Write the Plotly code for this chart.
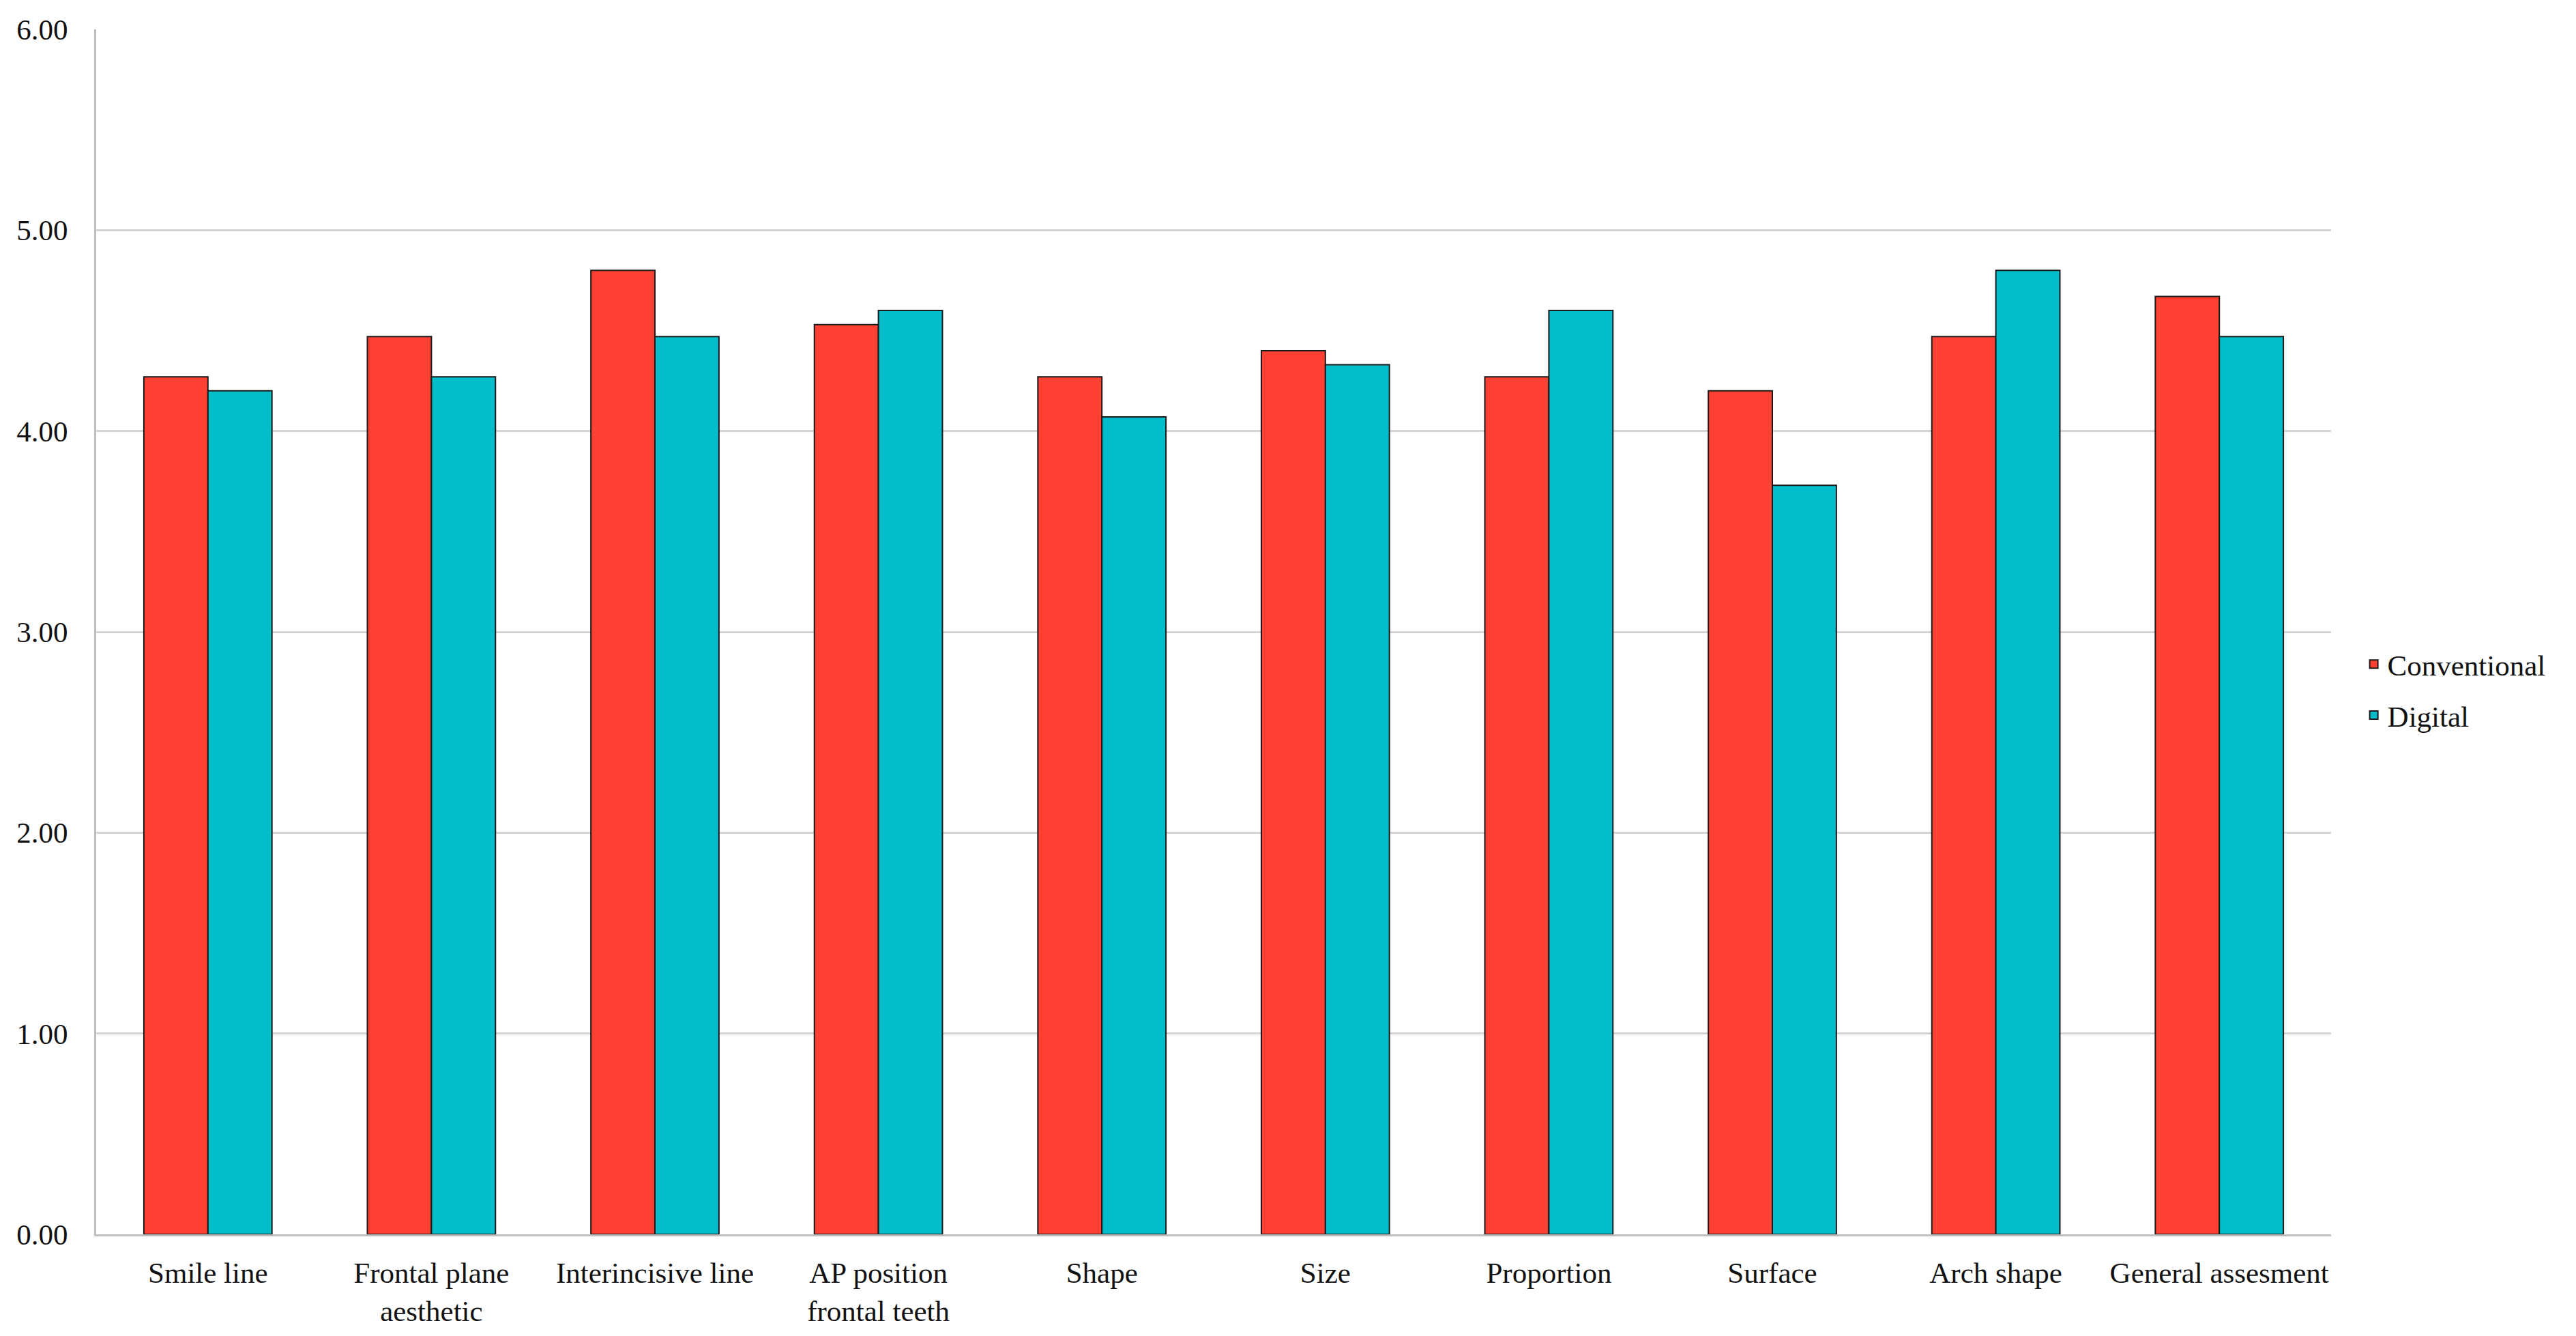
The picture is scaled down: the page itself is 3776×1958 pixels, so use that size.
import plotly.graph_objects as go

categories = ["Smile line", "Frontal plane<br>aesthetic", "Interincisive line", "AP position<br>frontal teeth",
              "Shape", "Size", "Proportion", "Surface", "Arch shape", "General assesment"]
conventional = [4.27, 4.47, 4.80, 4.53, 4.27, 4.40, 4.27, 4.20, 4.47, 4.67]
digital = [4.20, 4.27, 4.47, 4.60, 4.07, 4.33, 4.60, 3.73, 4.80, 4.47]

FONT = "Liberation Serif"
FS = 43
fig = go.Figure()
fig.add_trace(go.Bar(x=categories, y=conventional, name="Conventional", legendgroup="a",
                     marker=dict(color="#FF4133", line=dict(color="#1a1a1a", width=2))))
fig.add_trace(go.Bar(x=categories, y=digital, name="Digital", legendgroup="b",
                     marker=dict(color="#00BDC9", line=dict(color="#1a1a1a", width=2))))

fig.update_layout(
    width=3776, height=1958,
    margin=dict(l=133, r=367, t=23, b=157),
    paper_bgcolor="white", plot_bgcolor="white",
    barmode="group", bargap=0.427, bargroupgap=0,
    font=dict(family=FONT, size=FS, color="#111111"),
    legend=dict(x=1.013, y=0.452, xanchor="left", yanchor="middle",
                traceorder="grouped", tracegroupgap=16,
                font=dict(family=FONT, size=FS), itemwidth=30),
    showlegend=True,
)
fig.update_yaxes(range=[0, 6], dtick=1, tickformat=".2f", showgrid=True,
                 gridcolor="#D4D4D4", gridwidth=3, showline=True, linecolor="#BEBEBE",
                 linewidth=3, ticks="", ticklabelstandoff=30, zeroline=False,
                 tickfont=dict(family=FONT, size=FS))
fig.update_xaxes(showline=True, linecolor="#BEBEBE", linewidth=3, ticks="",
                 ticklabelstandoff=16, tickfont=dict(family=FONT, size=FS))

fig.write_html("out.html")
